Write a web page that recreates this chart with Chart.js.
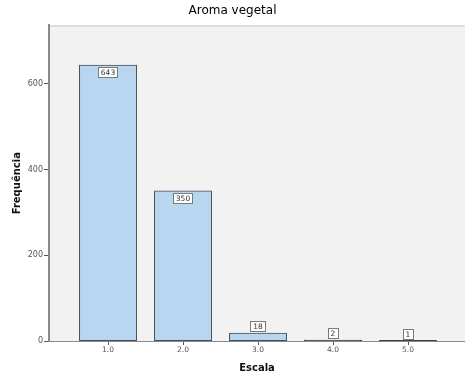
<!DOCTYPE html>
<html>
<head>
<meta charset="utf-8">
<script src="https://cdn.jsdelivr.net/npm/chart.js@4/dist/chart.umd.min.js"></script>
<style>
  html, body { margin: 0; padding: 0; background: #ffffff; }
  #wrap { width: 465px; height: 379px; position: relative; }
</style>
</head>
<body>
<div id="wrap"><canvas id="c" width="465" height="379"></canvas></div>
<script>
// Escala (categories), frequências and axis ticks
const categories = [1, 2, 3, 4, 5];
const frequencies = [643, 350, 18, 2, 1];
const yTicks = [0, 200, 400, 600];

const FONT = "'DejaVu Sans', Verdana, sans-serif";

// Plot panel background and top edge
const panelPlugin = {
  id: 'panel',
  beforeDraw(chart) {
    const { ctx, chartArea: a } = chart;
    ctx.save();
    ctx.fillStyle = '#f2f2f2';
    ctx.fillRect(a.left, a.top, a.right - a.left, a.bottom - a.top);
    ctx.strokeStyle = '#c8c8c8';
    ctx.lineWidth = 1;
    ctx.beginPath();
    ctx.moveTo(a.left, a.top + 0.5);
    ctx.lineTo(a.right, a.top + 0.5);
    ctx.stroke();
    ctx.restore();
  }
};

// Boxed value labels on each bar
const valueBoxPlugin = {
  id: 'valueBoxes',
  afterDatasetsDraw(chart) {
    const { ctx } = chart;
    const xs = chart.scales.x, ys = chart.scales.y;
    ctx.save();
    ctx.font = '7.5px ' + FONT;
    ctx.textAlign = 'center';
    ctx.textBaseline = 'middle';
    frequencies.forEach((v, i) => {
      const cx = Math.round(xs.getPixelForValue(categories[i]));
      const top = ys.getPixelForValue(v);
      const base = ys.getPixelForValue(0);
      const txt = String(v);
      const w = Math.round(ctx.measureText(txt).width) + 6;
      const h = 11;
      let by;
      if (base - top > 24) by = Math.round(top) + 2;
      else by = Math.round(top) - h - 1;
      const bx = Math.round(cx - w / 2);
      ctx.fillStyle = '#ffffff';
      ctx.fillRect(bx, by, w, h);
      ctx.strokeStyle = '#7a7a7a';
      ctx.lineWidth = 1;
      ctx.strokeRect(bx + 0.5, by + 0.5, w - 1, h - 1);
      ctx.fillStyle = '#333333';
      ctx.fillText(txt, cx, by + h / 2 + 0.5);
    });
    ctx.restore();
  }
};

new Chart(document.getElementById('c'), {
  type: 'bar',
  data: {
    datasets: [{
      data: categories.map((c, i) => ({ x: c, y: frequencies[i] })),
      // very short bars are drawn as a dark outline strip
      backgroundColor: ctx => (ctx.raw && ctx.raw.y < 5) ? '#3a3f45' : '#b8d6f0',
      borderColor: '#4a5058',
      borderWidth: 1,
      barThickness: 57,
      inflateAmount: 0.5,
      borderSkipped: false
    }]
  },
  options: {
    responsive: false,
    animation: false,
    devicePixelRatio: 1,
    layout: { padding: { left: 0, right: 0, top: 0, bottom: 0 } },
    plugins: {
      legend: { display: false },
      tooltip: { enabled: false },
      title: {
        display: true,
        text: 'Aroma vegetal',
        color: '#000000',
        font: { family: FONT, size: 12, weight: 'normal' },
        padding: { top: 4, bottom: 7 }
      }
    },
    scales: {
      x: {
        type: 'linear',
        offset: false,
        min: 0.213,
        max: 5.76,
        afterBuildTicks(scale) { scale.ticks = categories.map(v => ({ value: v })); },
        afterFit(scale) { scale.height = 38; },
        ticks: {
          color: '#555555',
          font: { family: FONT, size: 7.5 },
          padding: 1,
          maxRotation: 0,
          callback: v => Number(v).toFixed(1)
        },
        grid: {
          offset: false,
          drawOnChartArea: false,
          drawTicks: true,
          tickLength: 4,
          color: '#555555'
        },
        border: { color: '#8a8a8a', width: 1 },
        title: {
          display: true,
          text: 'Escala',
          color: '#111111',
          font: { family: FONT, size: 10, weight: 'bold' },
          padding: { top: 2, bottom: 5 }
        }
      },
      y: {
        min: 0,
        max: 736,
        afterBuildTicks(scale) { scale.ticks = yTicks.map(v => ({ value: v })); },
        afterFit(scale) { scale.width = 49; },
        ticks: {
          color: '#555555',
          font: { family: FONT, size: 8 },
          padding: 1
        },
        grid: {
          drawOnChartArea: false,
          drawTicks: true,
          tickLength: 5,
          color: '#555555'
        },
        border: { color: '#8a8a8a', width: 2 },
        title: {
          display: true,
          text: 'Frequência',
          color: '#111111',
          font: { family: FONT, size: 10, weight: 'bold' },
          padding: { top: 11, bottom: 0 }
        }
      }
    }
  },
  plugins: [panelPlugin, valueBoxPlugin]
});
</script>
</body>
</html>
